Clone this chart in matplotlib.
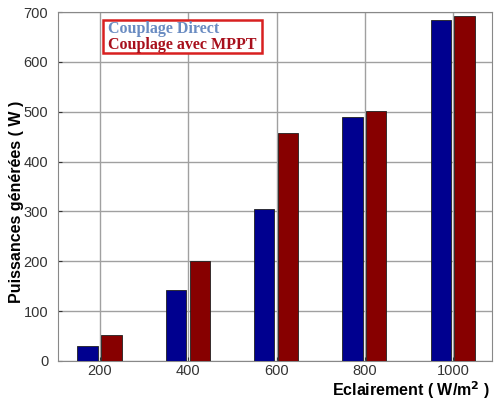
import numpy as np
import matplotlib.pyplot as plt

plt.rcParams['font.family'] = ['Liberation Sans', 'DejaVu Sans']

eclairement = [200, 400, 600, 800, 1000]
direct = [30, 143, 305, 490, 683]
mppt = [53, 200, 457, 501, 691]
labels = ['Couplage Direct', 'Couplage avec MPPT']

fig = plt.figure(figsize=(4.95, 4.01), dpi=100)
ax = fig.add_axes([58/495, 40/401, 434/495, 349/401])

x = np.array(eclairement)
w = 46
ax.bar(x - 28, direct, w, color='#00008f', edgecolor='#202020', linewidth=0.6, zorder=3)
ax.bar(x + 26, mppt, w, color='#870000', edgecolor='#202020', linewidth=0.6, zorder=3)

ax.set_xlim(105, 1088)
ax.set_ylim(0, 700)
ax.set_xticks(eclairement)
ax.set_yticks(range(0, 701, 100))
ax.grid(True, color='#a0a0a0', linewidth=1.0, zorder=0)
ax.tick_params(direction='in', length=3, labelsize=10.5, colors='#333333')
ax.tick_params(axis='y', pad=7)
ax.tick_params(axis='x', pad=2)
for s in ax.spines.values():
    s.set_color('#888888')

fig.text(17/495, 199/401, 'Puissances générées ( W )', rotation=90, ha='center', va='center',
         fontsize=11.5, fontweight='bold')
fig.text(0.99, 5/401, r'Eclairement ( W/m$^{\mathbf{2}}$ )', ha='right', va='baseline',
         fontsize=11.5, fontweight='bold')

# legend box: text only, coloured
ax.add_patch(plt.Rectangle((103/495, 348/401), 159/495, 33/401, transform=fig.transFigure,
                           fill=True, facecolor='white', edgecolor='#d82020', linewidth=1.8,
                           zorder=5, clip_on=False))
fig.text(108/495, 372/401, labels[0], color='#6a8cc2', family='Liberation Serif',
         fontweight='bold', fontsize=11.5, va='center', zorder=6)
fig.text(108/495, 356/401, labels[1], color='#a8101c', family='Liberation Serif',
         fontweight='bold', fontsize=11.5, va='center', zorder=6)

fig.savefig('out.png', dpi=100)
